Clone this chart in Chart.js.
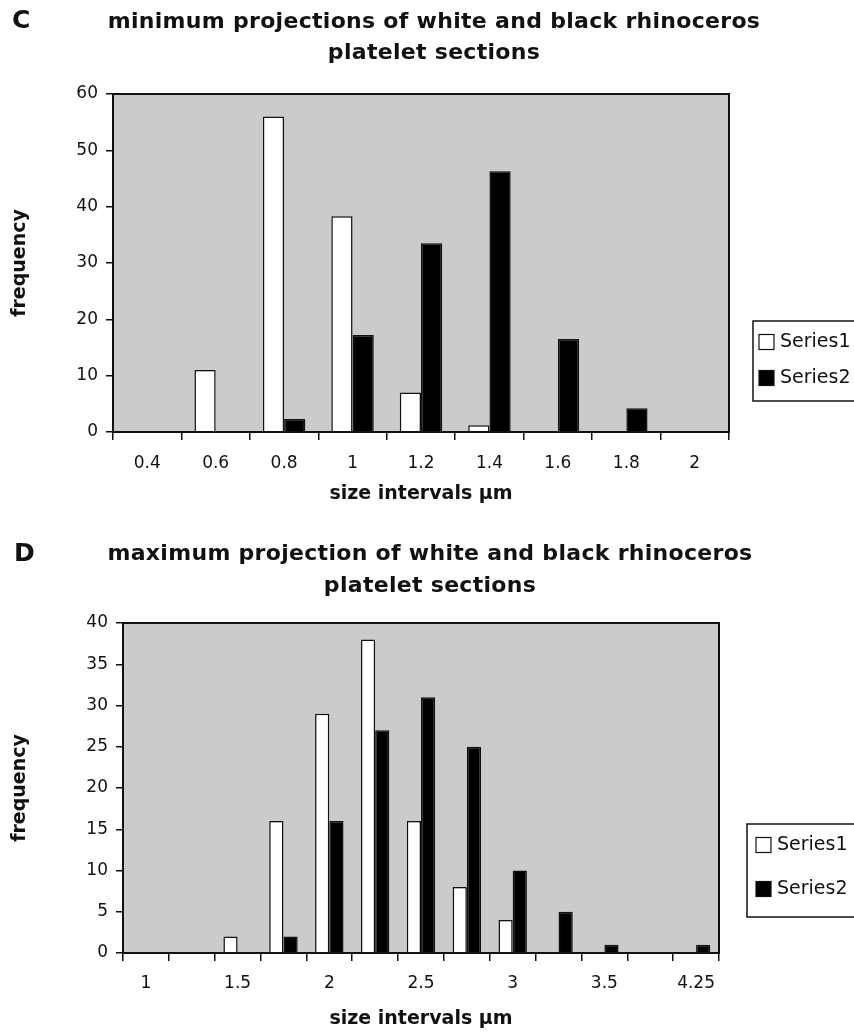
<!DOCTYPE html>
<html>
<head>
<meta charset="utf-8">
<script src="https://cdn.jsdelivr.net/npm/chart.js@4.4.1/dist/chart.umd.min.js"></script>
<style>
  body { margin: 0; width: 854px; height: 1034px; position: relative; overflow: hidden; background: #fff; }
  canvas { position: absolute; left: 0; }
  .letter { position: absolute; font: bold 25px "DejaVu Sans", sans-serif; color: #111; z-index: 2; }
  .title { position: absolute; width: 800px; text-align: center; white-space: nowrap;
           font: bold 22px "DejaVu Sans", sans-serif; letter-spacing: 0.3px; color: #111; z-index: 2; }
</style>
</head>
<body>
<div class="letter" style="left:12px; top:5px;">C</div>
<div class="title" style="left:34px; top:5px; line-height:31px;">minimum projections of white and black rhinoceros<br>platelet sections</div>
<canvas id="grafik-min" width="854" height="515" style="top:0;"></canvas>

<div class="letter" style="left:14px; top:538px;">D</div>
<div class="title" style="left:30px; top:537px; line-height:32px;">maximum projection of white and black rhinoceros<br>platelet sections</div>
<canvas id="grafik-max" width="854" height="514" style="top:520px;"></canvas>

<script>
// panel C - minimum projections
const labelsMin = ["0.4", "0.6", "0.8", "1", "1.2", "1.4", "1.6", "1.8", "2"];
const whiteMin = [0, 11, 56, 38.3, 7, 1.2, 0, 0, 0];
const blackMin = [0, 0, 2.3, 17.2, 33.5, 46.3, 16.5, 4.2, 0];

// panel D - maximum projection
const labelsMax = ["1", "1.25", "1.5", "1.75", "2", "2.25", "2.5", "2.75", "3", "3.25", "3.5", "4", "4.25"];
const whiteMax = [0, 0, 2, 16, 29, 38, 16, 8, 4, 0, 0, 0, 0];
const blackMax = [0, 0, 0, 2, 16, 27, 31, 25, 10, 5, 1, 0, 1];

const ink = "#111";
const tickFont = { family: "DejaVu Sans", size: 17 };
const titleFont = { family: "DejaVu Sans", size: 19, weight: "bold" };

// grey plot area + frame
const plotFrame = {
  id: "plotFrame",
  beforeDraw(chart) {
    const a = chart.chartArea;
    const ctx = chart.ctx;
    ctx.save();
    ctx.fillStyle = "#cbcbcb";
    ctx.fillRect(a.left, a.top, a.right - a.left, a.bottom - a.top);
    ctx.restore();
  },
  afterDatasetsDraw(chart) {
    const a = chart.chartArea;
    const ctx = chart.ctx;
    ctx.save();
    ctx.strokeStyle = ink;
    ctx.lineWidth = 2;
    ctx.strokeRect(a.left, a.top, a.right - a.left, a.bottom - a.top);
    ctx.restore();
  },
};

// boxed legend on the right, like the excel one
const boxLegend = {
  id: "boxLegend",
  afterDraw(chart, args, o) {
    const ctx = chart.ctx;
    ctx.save();
    ctx.lineWidth = 1.5;
    ctx.strokeStyle = ink;
    ctx.strokeRect(o.x, o.y, 200, o.h);
    ctx.font = '19px "DejaVu Sans"';
    ctx.textBaseline = "middle";
    chart.data.datasets.forEach((ds, i) => {
      const cy = o.y + o.first + i * o.gap;
      ctx.fillStyle = ds.backgroundColor;
      ctx.fillRect(o.x + o.mark, cy - 7.5, 15, 15);
      ctx.lineWidth = 1.2;
      ctx.strokeRect(o.x + o.mark, cy - 7.5, 15, 15);
      ctx.fillStyle = ink;
      ctx.fillText(ds.label, o.x + o.mark + 21, cy);
    });
    ctx.restore();
  },
};

function makeChart(el, labels, white, black, yMax, yStep, box, legend, skipOdd) {
  return new Chart(document.getElementById(el), {
    type: "bar",
    data: {
      labels: labels,
      datasets: [
        { label: "Series1", data: white, backgroundColor: "#ffffff", borderColor: ink, borderWidth: 1.5 },
        { label: "Series2", data: black, backgroundColor: "#000000", borderColor: ink, borderWidth: 1.5 },
      ],
    },
    options: {
      responsive: false,
      animation: false,
      categoryPercentage: 0.62,
      barPercentage: 1.0,
      layout: { padding: { top: box.top, right: box.right, left: 0, bottom: 0 } },
      plugins: {
        legend: { display: false },
        tooltip: { enabled: false },
        boxLegend: legend,
      },
      scales: {
        x: {
          afterFit: (s) => { s.height = box.xh; },
          grid: { offset: true, drawOnChartArea: false, tickLength: 8, color: ink, lineWidth: 1.5 },
          border: { color: ink, width: 2 },
          ticks: {
            autoSkip: false,
            maxRotation: 0,
            padding: box.tp,
            color: ink,
            font: tickFont,
            callback: (v, i) => (skipOdd && i % 2 ? "" : labels[i]),
          },
          title: { display: true, text: "size intervals µm", color: ink, font: titleFont, padding: { top: 0, bottom: box.tb } },
        },
        y: {
          min: 0,
          max: yMax,
          afterFit: (s) => { s.width = box.yw; },
          grid: { drawOnChartArea: false, tickLength: 7, color: ink, lineWidth: 1.5 },
          border: { color: ink, width: 2 },
          ticks: { stepSize: yStep, padding: 8, color: ink, font: tickFont },
          title: { display: true, text: "frequency", color: ink, font: titleFont, padding: { top: 9, bottom: 0 } },
        },
      },
    },
    plugins: [plotFrame, boxLegend],
  });
}

let minChart = makeChart("grafik-min", labelsMin, whiteMin, blackMin, 60, 10,
  { top: 94, right: 125, xh: 83, yw: 113, tb: 10, tp: 13 },
  { x: 753, y: 321, h: 80, first: 21, gap: 36, mark: 6 }, false);

let maxChart = makeChart("grafik-max", labelsMax, whiteMax, blackMax, 40, 5,
  { top: 103, right: 135, xh: 81, yw: 123, tb: 4, tp: 12 },
  { x: 747, y: 304, h: 93, first: 21, gap: 44, mark: 9 }, true);
</script>
</body>
</html>
